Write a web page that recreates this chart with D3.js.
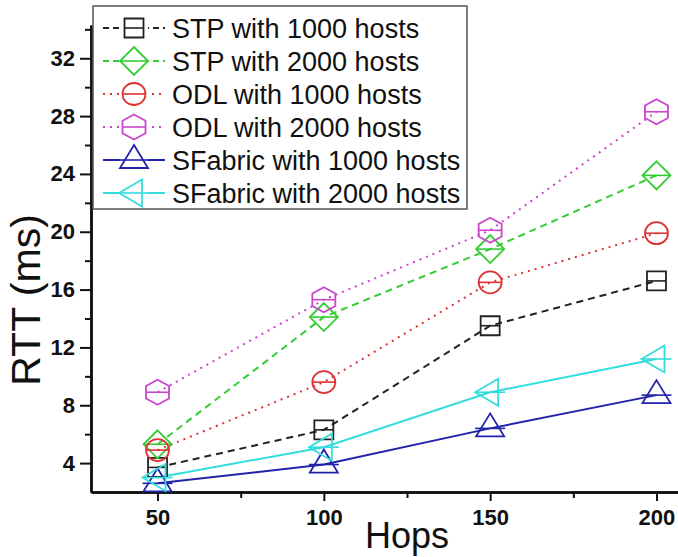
<!DOCTYPE html>
<html>
<head>
<meta charset="utf-8">
<script src="https://cdn.jsdelivr.net/npm/d3@7"></script>
<style>
  html, body { margin: 0; padding: 0; background: #fff; }
  svg { display: block; }
</style>
</head>
<body>
<div id="chart"></div>
<script>
const hops = [50, 100, 150, 200];
const seriesNames = [
    "STP with 1000 hosts",
    "STP with 2000 hosts",
    "ODL with 1000 hosts",
    "ODL with 2000 hosts",
    "SFabric with 1000 hosts",
    "SFabric with 2000 hosts"
];
const stp1000 = [3.7, 6.3, 13.5, 16.6];
const stp2000 = [5.3, 14.1, 18.8, 23.9];
const odl1000 = [4.9, 9.6, 16.5, 19.9];
const odl2000 = [8.9, 15.3, 20.1, 28.3];
const sf1000 = [2.6, 3.9, 6.4, 8.7];
const sf2000 = [3.0, 5.1, 8.9, 11.2];
const yTicks = [4, 8, 12, 16, 20, 24, 28, 32];
const yMinorTicks = [6, 10, 14, 18, 22, 26, 30, 34];
const xTicks = [50, 100, 150, 200];
const xMinorTicks = [75, 125, 175];

const width = 678;
const height = 557;

// marker shapes, half-width of the bar through the middle
const shapes = {
    square: { d: "M-9.5,-9.5H9.5V9.5H-9.5Z", bar: 9.5 },
    diamond: { d: "M0,-14L14,0L0,14L-14,0Z", bar: 14 },
    circle: { d: "M-11.5,0A11.5,11,0,1,0,11.5,0A11.5,11,0,1,0,-11.5,0Z", bar: 11.5 },
    hexagon: { d: "M0,-12.5L11.5,-6.25L11.5,6.25L0,12.5L-11.5,6.25L-11.5,-6.25Z", bar: 11.5 },
    triUp: { d: "M0,-15L14,8L-14,8Z", bar: 15 },
    triLeft: { d: "M-15,0L8,-13.5L8,13.5Z", bar: 15 }
};

const series = [
    { name: seriesNames[0], values: stp1000, color: "#222222", dash: "7,5", shape: "square" },
    { name: seriesNames[1], values: stp2000, color: "#33cc33", dash: "7,5", shape: "diamond" },
    { name: seriesNames[2], values: odl1000, color: "#dd3333", dash: "2,5", shape: "circle" },
    { name: seriesNames[3], values: odl2000, color: "#cc44cc", dash: "2,5", shape: "hexagon" },
    { name: seriesNames[4], values: sf1000, color: "#2222aa", dash: null, shape: "triUp" },
    { name: seriesNames[5], values: sf2000, color: "#33dddd", dash: null, shape: "triLeft" }
];

const svg = d3.select("#chart")
    .append("svg")
    .attr("width", width)
    .attr("height", height)
    .style("font-family", "'Liberation Sans', Arial, sans-serif");

const x = d3.scaleLinear().domain([30, 220]).range([91, 723]);
const y = d3.scaleLinear().domain([2, 34.3]).range([492, 25]);

// axes
svg.append("g")
    .attr("transform", `translate(0,${y(2)})`)
    .call(d3.axisBottom(x).tickValues(xTicks).tickSize(9).tickPadding(8).tickSizeOuter(0));
svg.append("g")
    .attr("transform", `translate(0,${y(2)})`)
    .call(d3.axisBottom(x).tickValues(xMinorTicks).tickSize(6).tickFormat("").tickSizeOuter(0));

svg.append("g")
    .attr("transform", `translate(${x(30)},0)`)
    .call(d3.axisLeft(y).tickValues(yTicks).tickSize(11).tickPadding(5).tickSizeOuter(0));
svg.append("g")
    .attr("transform", `translate(${x(30)},0)`)
    .call(d3.axisLeft(y).tickValues(yMinorTicks).tickSize(6).tickFormat("").tickSizeOuter(0));

svg.selectAll(".domain").attr("stroke", "#111").attr("stroke-width", 2.5);
svg.selectAll(".tick line").attr("stroke", "#111").attr("stroke-width", 2);
svg.selectAll(".tick text")
    .attr("font-size", "22px")
    .attr("font-weight", "bold")
    .attr("font-family", "'Liberation Sans', Arial, sans-serif")
    .attr("fill", "#111");

svg.append("text")
    .attr("x", (x.range()[0] + x.range()[1]) / 2)
    .attr("y", 548)
    .attr("text-anchor", "middle")
    .attr("font-size", "36px")
    .attr("fill", "#111")
    .text("Hops");

svg.append("text")
    .attr("transform", "translate(40,300) rotate(-90)")
    .attr("text-anchor", "middle")
    .attr("font-size", "41px")
    .attr("fill", "#111")
    .text("RTT (ms)");

function drawMarker(g, s) {
    const sh = shapes[s.shape];
    g.append("path")
        .attr("d", sh.d)
        .attr("fill", "none")
        .attr("stroke", s.color)
        .attr("stroke-width", 1.8);
    g.append("line")
        .attr("x1", -sh.bar)
        .attr("x2", sh.bar)
        .attr("stroke", s.color)
        .attr("stroke-width", 1.6);
}

// series lines
const line = d3.line()
    .x((d, i) => x(hops[i]))
    .y(d => y(d));

svg.append("g").selectAll("path")
    .data(series)
    .join("path")
    .attr("d", d => line(d.values))
    .attr("fill", "none")
    .attr("stroke", d => d.color)
    .attr("stroke-width", 2)
    .attr("stroke-dasharray", d => d.dash);

// markers
series.forEach(s => {
    s.values.forEach((v, i) => {
        const g = svg.append("g").attr("transform", `translate(${x(hops[i])},${y(v)})`);
        drawMarker(g, s);
    });
});

// legend
const legend = svg.append("g");
legend.append("rect")
    .attr("x", 93)
    .attr("y", 6)
    .attr("width", 374)
    .attr("height", 203)
    .attr("fill", "#fff")
    .attr("stroke", "#555")
    .attr("stroke-width", 1.5);

series.forEach((s, i) => {
    const row = legend.append("g").attr("transform", `translate(0,${28 + i * 33})`);
    row.append("line")
        .attr("x1", 103)
        .attr("x2", 165)
        .attr("stroke", s.color)
        .attr("stroke-width", 2)
        .attr("stroke-dasharray", s.dash ? (s.dash === "2,5" ? "2,5" : "6,4") : null);
    const m = row.append("g").attr("transform", "translate(134,0)");
    m.append("rect").attr("x", -14).attr("y", -14).attr("width", 28).attr("height", 28)
        .attr("fill", "#fff");
    drawMarker(m, s);
    row.append("text")
        .attr("x", 172)
        .attr("y", 10)
        .attr("font-size", "27px")
        .attr("fill", "#111")
        .text(s.name);
});
</script>
</body>
</html>
